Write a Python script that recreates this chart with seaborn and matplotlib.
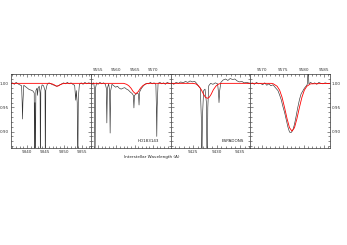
import matplotlib
matplotlib.use("Agg")
import matplotlib.pyplot as plt
import seaborn as sns
from matplotlib.ticker import MultipleLocator, FormatStrFormatter

# ---- data (normalised flux vs interstellar wavelength) ----
# panel 1 : 9336-9357 A
p1_wave = [9335.6, 9336.0, 9336.5, 9337.0, 9337.5, 9338.0, 9338.5, 9338.65, 9338.75, 9338.85,
           9339.1, 9339.6, 9340.1, 9340.6, 9341.1, 9341.6, 9341.95, 9342.05, 9342.15, 9342.25,
           9342.4, 9342.7, 9342.85, 9343.0, 9343.3, 9343.55, 9343.65, 9343.75, 9344.1, 9344.5,
           9344.9, 9345.0, 9345.1, 9345.5, 9346.0, 9346.5, 9347.0, 9347.5, 9348.0, 9348.5,
           9349.0, 9349.5, 9350.0, 9350.5, 9351.0, 9351.5, 9352.0, 9352.5, 9353.0, 9353.2,
           9353.3, 9353.45, 9353.7, 9353.85, 9354.0, 9354.3, 9354.8, 9355.3, 9355.8, 9356.3,
           9356.8, 9357.4]
p1_flux = [0.999, 1.001, 0.998, 1.002, 0.999, 0.997, 0.995, 0.960, 0.926, 0.960,
           0.996, 0.993, 0.990, 0.987, 0.986, 0.984, 0.980, 0.800, 0.960, 0.800,
           0.985, 0.990, 0.975, 0.990, 0.994, 0.980, 0.800, 0.985, 0.997, 0.995,
           0.985, 0.800, 0.985, 0.998, 1.001, 0.999, 0.997, 0.996, 0.994, 0.995,
           0.997, 0.999, 1.001, 0.999, 1.002, 0.999, 1.001, 0.998, 0.996, 0.975,
           0.965, 0.985, 0.960, 0.800, 0.970, 0.998, 1.001, 0.998, 1.002, 0.999,
           1.001, 1.000]
p1_model_wave = [9335.6, 9346.0, 9346.8, 9347.4, 9347.8, 9348.2, 9348.6, 9349.0, 9349.6, 9350.4, 9357.4]
p1_model_flux = [1.000, 1.000, 0.999, 0.997, 0.995, 0.994, 0.995, 0.997, 0.999, 1.000, 1.000]

# panel 2 : 9553-9575 A
p2_wave = [9553.0, 9553.4, 9553.8, 9554.0, 9554.15, 9554.3, 9554.6, 9555.0, 9555.5, 9556.0,
           9556.5, 9557.0, 9557.25, 9557.4, 9557.55, 9557.9, 9558.15, 9558.3, 9558.45, 9558.8,
           9559.3, 9559.8, 9560.3, 9560.8, 9561.3, 9561.8, 9562.3, 9562.8, 9563.3, 9563.8,
           9564.3, 9564.65, 9564.8, 9564.95, 9565.3, 9565.7, 9566.05, 9566.2, 9566.35, 9566.8,
           9567.3, 9567.8, 9568.3, 9568.8, 9569.3, 9569.8, 9570.3, 9570.8, 9570.95, 9571.05,
           9571.15, 9571.4, 9571.9, 9572.4, 9572.9, 9573.4, 9573.9, 9574.4, 9574.8]
p2_flux = [1.000, 0.998, 1.001, 0.990, 0.800, 0.990, 1.001, 0.998, 1.002, 0.999,
           1.001, 0.998, 0.990, 0.918, 0.990, 0.999, 0.985, 0.897, 0.985, 0.998,
           0.995, 0.992, 0.994, 0.990, 0.988, 0.990, 0.991, 0.988, 0.986, 0.982,
           0.979, 0.975, 0.949, 0.975, 0.977, 0.980, 0.978, 0.955, 0.982, 0.989,
           0.994, 0.998, 1.000, 0.999, 1.002, 0.999, 1.001, 0.998, 0.950, 0.890,
           0.950, 1.000, 1.002, 0.999, 1.001, 0.998, 1.002, 1.000, 0.999]
p2_model_wave = [9553.0, 9562.0, 9562.8, 9563.4, 9564.0, 9564.6, 9565.0, 9565.3, 9565.6, 9566.0,
                 9566.6, 9567.2, 9567.8, 9568.6, 9574.8]
p2_model_flux = [1.000, 1.000, 0.998, 0.995, 0.990, 0.983, 0.980, 0.979, 0.980, 0.983,
                 0.990, 0.995, 0.998, 1.000, 1.000]

# panel 3 : 9420-9437 A
p3_wave = [9420.1, 9420.3, 9420.8, 9421.3, 9421.8, 9422.3, 9422.8, 9423.3, 9423.8, 9424.3,
           9424.8, 9425.3, 9425.7, 9426.1, 9426.5, 9426.7, 9426.8, 9426.95, 9427.2, 9427.5,
           9427.8, 9427.95, 9428.1, 9428.3, 9428.7, 9429.2, 9429.7, 9430.2, 9430.4, 9430.5,
           9430.65, 9430.9, 9431.4, 9431.9, 9432.4, 9432.9, 9433.4, 9433.9, 9434.4, 9434.9,
           9435.4, 9435.9, 9436.4, 9437.2]
p3_flux = [0.999, 1.001, 0.998, 1.002, 1.000, 1.003, 1.001, 1.004, 1.002, 1.005,
           1.003, 1.004, 1.000, 0.994, 0.990, 0.930, 0.800, 0.930, 0.985, 0.988,
           0.960, 0.800, 0.950, 0.995, 1.000, 0.998, 1.001, 0.999, 0.980, 0.960,
           0.985, 1.002, 1.007, 1.009, 1.006, 1.010, 1.008, 1.009, 1.005, 1.003,
           1.004, 1.001, 1.002, 1.000]
p3_model_wave = [9420.1, 9424.8, 9425.5, 9426.1, 9426.7, 9427.2, 9427.6, 9428.0, 9428.4, 9428.8,
                 9429.3, 9429.9, 9430.5, 9431.2, 9437.2]
p3_model_flux = [1.000, 1.000, 0.999, 0.995, 0.987, 0.977, 0.971, 0.969, 0.971, 0.977,
                 0.987, 0.995, 0.999, 1.000, 1.000]

# panel 4 : 9567-9586 A
p4_wave = [9567.1, 9567.6, 9568.1, 9568.6, 9569.1, 9569.6, 9570.1, 9570.6, 9571.1, 9571.6,
           9572.1, 9572.6, 9573.0, 9573.4, 9573.8, 9574.2, 9574.6, 9575.0, 9575.4, 9575.8,
           9576.2, 9576.6, 9577.0, 9577.4, 9577.8, 9578.2, 9578.6, 9579.0, 9579.4, 9579.8,
           9580.2, 9580.6, 9580.9, 9581.1, 9581.3, 9581.7, 9582.2, 9582.7, 9583.2, 9583.7,
           9584.2, 9584.7, 9585.2, 9585.7, 9586.4]
p4_flux = [0.999, 1.001, 0.998, 1.002, 0.999, 1.000, 0.997, 1.001, 0.996, 0.999,
           0.995, 0.997, 0.993, 0.989, 0.985, 0.976, 0.966, 0.952, 0.940, 0.925,
           0.910, 0.899, 0.898, 0.903, 0.915, 0.932, 0.950, 0.966, 0.978, 0.984,
           0.990, 0.994, 0.998, 1.030, 0.999, 1.002, 0.999, 1.001, 0.998, 1.002,
           1.000, 0.999, 1.001, 1.000, 1.000]
p4_model_wave = [9567.1, 9572.2, 9572.7, 9573.6, 9574.2, 9574.8, 9575.4, 9576.0, 9576.6, 9577.2,
                 9577.8, 9578.4, 9579.0, 9579.6, 9580.2, 9580.8, 9581.7, 9586.4]
p4_model_flux = [1.000, 1.000, 0.999, 0.994, 0.986, 0.971, 0.950, 0.927, 0.908, 0.901,
                 0.908, 0.927, 0.950, 0.971, 0.986, 0.994, 0.999, 1.000]

xlims = [(9335.6, 9357.4), (9553.0, 9574.8), (9420.1, 9437.2), (9567.1, 9586.4)]
panels = [(p1_wave, p1_flux, p1_model_wave, p1_model_flux),
          (p2_wave, p2_flux, p2_model_wave, p2_model_flux),
          (p3_wave, p3_flux, p3_model_wave, p3_model_flux),
          (p4_wave, p4_flux, p4_model_wave, p4_model_flux)]

sns.set_style("ticks")
plt.rcParams['font.family'] = ['DejaVu Sans']

W, H = 347, 245
fig = plt.figure(figsize=(W / 100, H / 100), dpi=100)
edges = [11, 90.75, 170.5, 250.25, 330]
top_px, bot_px = 73.7, 148.0

for i, (wv, fl, mw, mf) in enumerate(panels):
    ax = fig.add_axes([edges[i] / W, 1 - bot_px / H, (edges[i + 1] - edges[i]) / W, (bot_px - top_px) / H])
    sns.lineplot(x=wv, y=fl, ax=ax, estimator=None, sort=False, color='#333333', lw=0.45)
    sns.lineplot(x=mw, y=mf, ax=ax, estimator=None, sort=False, color='red', lw=0.6)
    ax.set_xlim(*xlims[i])
    ax.set_ylim(0.866, 1.02)
    ax.set_xlabel('')
    ax.set_ylabel('')
    ax.xaxis.set_major_locator(MultipleLocator(5))
    ax.xaxis.set_minor_locator(MultipleLocator(1))
    ax.yaxis.set_major_locator(MultipleLocator(0.05))
    ax.yaxis.set_minor_locator(MultipleLocator(0.01))
    ax.yaxis.set_major_formatter(FormatStrFormatter('%.2f'))
    ax.xaxis.set_major_formatter(FormatStrFormatter('%d'))
    ax.tick_params(which='both', direction='in', top=True, bottom=True, left=True, right=True,
                   width=0.4, labelsize=3, pad=1.5, colors='#333333')
    ax.tick_params(which='major', length=2.5)
    ax.tick_params(which='minor', length=1.2)
    ax.tick_params(labelbottom=(i in (0, 2)), labeltop=(i in (1, 3)),
                   labelleft=(i == 0), labelright=(i == 3))
    for s in ax.spines.values():
        s.set_linewidth(0.5)
        s.set_color('#333333')

fig.text(148.5 / W, 1 - 141 / H, 'HD183143', fontsize=3, ha='center', va='center', color='#222222')
fig.text(233 / W, 1 - 141 / H, 'ESPADONS', fontsize=3, ha='center', va='center', color='#222222')
fig.text(152 / W, 1 - 157 / H, 'Interstellar Wavelength (A)', fontsize=3, ha='center', va='center',
         color='#222222')

fig.savefig('out.png', dpi=100)
